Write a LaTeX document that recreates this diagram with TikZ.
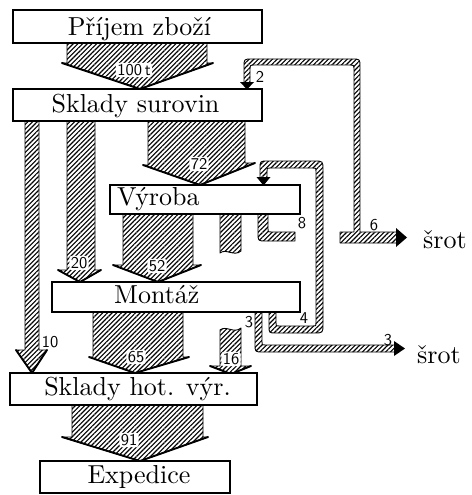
\documentclass[tikz,border=0pt]{standalone}
\usepackage{fontspec}
\usetikzlibrary{patterns.meta}
% text-size cut of Latin Modern, kept for the large station names
\newfontfamily\stationfont{lmroman10-regular}[Extension=.otf]
% sans for the quantities
\newfontfamily\qtyfont{lmsans10-regular}[Extension=.otf]
\begin{document}
\begin{tikzpicture}[x=1pt,y=-1pt,
  box/.style={draw, line width=1.1pt, fill=white, inner sep=0pt},
  hatch/.style={draw, line width=0.9pt, line join=round,
    pattern={Lines[angle=45,distance=3.3pt,line width=1.1pt]}},
  chevron/.style={line width=1.9pt, line join=miter, line cap=round},
  tipfill/.style={fill=black},
  btext/.style={font=\stationfont\fontsize{26}{30}\selectfont, inner sep=0pt},
  num/.style={font=\qtyfont\fontsize{16.5}{17}\selectfont, inner sep=0.6pt},
  numbg/.style={num, fill=white, rounded corners=2.5pt, inner sep=1.4pt},
]
\useasboundingbox (0,0) rectangle (471,495);
\fill[white] (0,0) rectangle (471,495);

% ---- main flows ----
% 100 t : goods-in -> raw material store
\draw[hatch] (67,43) -- (67,63) -- (62,63) -- (140,89) -- (213,63) -- (207,63) -- (207,43);
\draw[chevron] (62,63) -- (140,89) -- (213,63);
% 72 : raw material store -> production
\draw[hatch] (148,121) -- (148,165) -- (143,165) -- (200,185) -- (255,163) -- (245,163) -- (245,121);
\draw[chevron] (143,165) -- (200,185) -- (255,163);
% 20 : raw material store -> assembly
\draw[hatch] (67,121) -- (67,270) -- (58,270) -- (80,282) -- (101,270) -- (95,270) -- (95,121);
\draw[chevron] (58,270) -- (80,282) -- (101,270);
% 10 : raw material store -> finished goods store
\draw[hatch] (25,121) -- (25,350) -- (16,350) -- (32,373) -- (47,350) -- (39,350) -- (39,121);
\draw[chevron] (16,350) -- (32,373) -- (47,350);
% 52 : production -> assembly
\draw[hatch] (123,214) -- (123,265) -- (113,265) -- (158,282) -- (201,265) -- (193,265) -- (193,214);
\draw[chevron] (113,265) -- (158,282) -- (201,265);
% 16 : production -> finished goods store (broken bar)
\draw[hatch] (220,214) -- (220,253) .. controls (226,248) and (234,257) .. (241,251) -- (241,214);
\draw[hatch] (241,328) .. controls (234,334) and (226,325) .. (220,330) -- (220,366) -- (210,366)
  -- (231,374) -- (251,366) -- (241,366) -- cycle;
\draw[chevron] (210,366) -- (231,374) -- (251,366);
% 65 : assembly -> finished goods store
\draw[hatch] (93,312) -- (93,357) -- (89,357) -- (135,373) -- (189,357) -- (183,357) -- (183,312);
\draw[chevron] (89,357) -- (135,373) -- (189,357);
% 91 : finished goods store -> dispatch
\draw[hatch] (72,405) -- (72,437) -- (62,437) -- (140,461) -- (208,437) -- (203,437) -- (203,405);
\draw[chevron] (62,437) -- (140,461) -- (208,437);

% ---- scrap and return loops ----
% 8 : hook out of production
\draw[hatch] (258,212) -- (258,233) .. controls (258,241) .. (266,241) -- (295,241) -- (295,232)
  -- (271,232) .. controls (268,232) .. (268,229) -- (268,212);
% 6 to scrap, with 2 returned to raw material store
\draw[hatch] (340,232) -- (354,232) -- (354,70) .. controls (354,65) .. (349,65) -- (255,65)
  .. controls (250,65) .. (250,70) -- (250,83) -- (244,83) -- (244,67) .. controls (244,59) .. (252,59)
  -- (352,59) .. controls (360,59) .. (360,67) -- (360,232) -- (398,232) -- (398,243) -- (340,243) -- cycle;
% 4 : assembly back to production
\draw[hatch] (269,310) -- (269,326) .. controls (269,333) .. (276,333) -- (314,333)
  .. controls (323,333) .. (323,324) -- (323,170) .. controls (323,161) .. (314,161) -- (268,161)
  .. controls (260,161) .. (260,169) -- (260,178) -- (267,178) -- (267,171) .. controls (267,168) .. (270,168)
  -- (313,168) .. controls (316,168) .. (316,171) -- (316,323) .. controls (316,326) .. (313,326)
  -- (279,326) .. controls (276,326) .. (276,323) -- (276,310);
% 3 : assembly to scrap
\draw[hatch] (255,310) -- (255,344) .. controls (255,352) .. (263,352) -- (396,352) -- (396,345)
  -- (265,345) .. controls (262,345) .. (262,342) -- (262,310);

% ---- stations ----
\node[box, minimum width=249pt, minimum height=33pt] (prijem)   at (137.5,26.5) {};
\node[box, minimum width=249pt, minimum height=32pt] (surovin)  at (137.5,105)  {};
\node[box, minimum width=190pt, minimum height=29pt] (vyroba)   at (205,199.5)  {};
\node[box, minimum width=248pt, minimum height=30pt] (montaz)   at (176,297)    {};
\node[box, minimum width=247pt, minimum height=32pt] (hotvyr)   at (133.5,389)  {};
\node[box, minimum width=190pt, minimum height=32pt] (expedice) at (135,477)    {};

\node[btext, anchor=base] (prijemT)   at (139.5,35.5)  {Příjem zboží};
\node[btext, anchor=base] (surovinT)  at (135.5,112.5) {Sklady surovin};
\node[btext, anchor=base west] (vyrobaT) at (117,205.5) {Výroba};
\node[btext, anchor=base west] (montazT) at (114,303.5) {Montáž};
\node[btext, anchor=base] (hotvyrT)   at (137.5,395.5) {Sklady hot. výr.};
\node[btext, anchor=base] (expediceT) at (139,483.5)   {Expedice};

% ---- arrow tips of the thin flows ----
\fill[tipfill] (240,82) -- (254,82) -- (247,89.5) -- cycle;
\fill[tipfill] (256.5,177) -- (270.5,177) -- (263.5,185.5) -- cycle;
\fill[tipfill] (396,228) -- (407,237.5) -- (396,247) -- cycle;
\fill[tipfill] (394,341) -- (405,348.5) -- (394,356) -- cycle;

\node[btext, anchor=base west] (srot1) at (423,248) {šrot};
\node[btext, anchor=base west] (srot2) at (417,363) {šrot};

% ---- quantities ----
\node[numbg] (q100) at (134,70)  {100\,t};
\node[numbg] (q72)  at (199,164)   {72};
\node[numbg] (q20)  at (79,263)    {20};
\node[numbg] (q52)  at (157,266)   {52};
\node[numbg] (q65)  at (136,357)   {65};
\node[numbg] (q16)  at (231,359)   {16};
\node[numbg] (q91)  at (129,440)   {91};
\node[num]   (q10)  at (50,342)    {10};
\node[num]   (q2)   at (260,77)    {2};
\node[num]   (q8)   at (302,223)   {8};
\node[num]   (q6)   at (374,225)   {6};
\node[num]   (q4)   at (304,318)   {4};
\node[num]   (q3a)  at (249,322)   {3};
\node[num]   (q3b)  at (388,340)   {3};
\end{tikzpicture}
\end{document}
